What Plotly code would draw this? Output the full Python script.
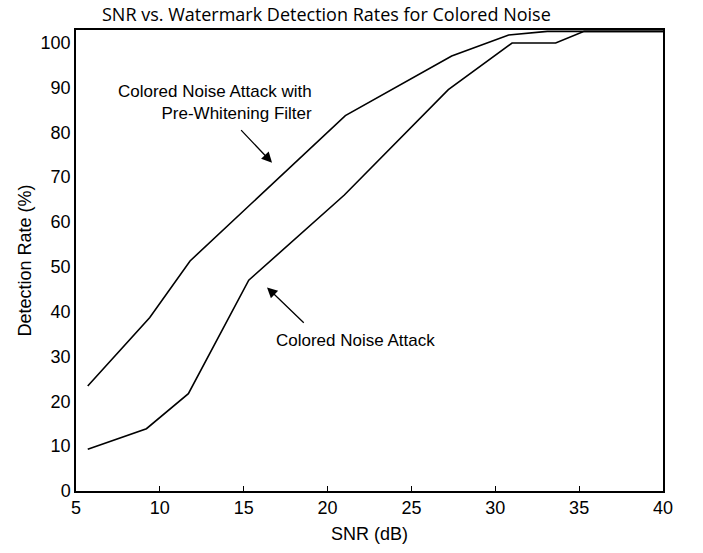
import plotly.graph_objects as go

# Data
snr_prewhite = [5.7, 9.4, 11.8, 21.06, 27.4, 30.8, 33.1, 40.0]
rate_prewhite = [23.4, 38.7, 51.3, 83.7, 97.0, 101.7, 102.5, 102.5]

snr_plain = [5.7, 9.2, 11.7, 15.3, 21.0, 27.2, 31.0, 33.6, 35.3, 40.0]
rate_plain = [9.3, 13.9, 21.7, 47.0, 66.0, 89.5, 99.9, 99.9, 102.5, 102.5]

x_ticks = [5, 10, 15, 20, 25, 30, 35, 40]
y_ticks = [0, 10, 20, 30, 40, 50, 60, 70, 80, 90, 100]

title_text = "SNR vs. Watermark Detection Rates for Colored Noise"
x_title = "SNR (dB)"
y_title = "Detection Rate (%)"
label_prewhite = "Colored Noise Attack with<br>Pre-Whitening Filter"
label_plain = "Colored Noise Attack"

W, H = 703, 553
L, R, T, B = 76, 40, 30, 60
pw, ph = W - L - R, H - T - B

def px_to_paper(px, py):
    return (px - L) / pw, (H - py - B) / ph

fig = go.Figure()
fig.add_trace(go.Scatter(x=snr_prewhite, y=rate_prewhite, mode="lines",
                         line=dict(color="black", width=1.6), showlegend=False))
fig.add_trace(go.Scatter(x=snr_plain, y=rate_plain, mode="lines",
                         line=dict(color="black", width=1.6), showlegend=False))

font_main = "Liberation Sans, Arial, sans-serif"

tx, ty = px_to_paper(326, 14)
annotations = [
    dict(x=19.17, y=86.6, xref="x", yref="y", text=label_prewhite, showarrow=False,
         xanchor="right", yanchor="middle", align="right",
         font=dict(family=font_main, size=17, color="black")),
    dict(x=16.78, y=33.6, xref="x", yref="y", text=label_plain, showarrow=False,
         xanchor="left", yanchor="middle", align="left",
         font=dict(family=font_main, size=17, color="black")),
    dict(x=16.69, y=73.2, ax=14.76, ay=80.8, xref="x", yref="y", axref="x", ayref="y",
         text="", showarrow=True, arrowhead=2, arrowsize=1.6, arrowwidth=1.3,
         arrowcolor="black"),
    dict(x=16.39, y=45.4, ax=18.67, ay=37.2, xref="x", yref="y", axref="x", ayref="y",
         text="", showarrow=True, arrowhead=2, arrowsize=1.6, arrowwidth=1.3,
         arrowcolor="black"),
    dict(x=tx, y=ty, xref="paper", yref="paper", text=title_text, showarrow=False,
         xanchor="center", yanchor="middle",
         font=dict(family="Open Sans, sans-serif", size=18, color="black")),
]

fig.update_layout(
    width=W, height=H,
    margin=dict(l=L, r=R, t=T, b=B),
    paper_bgcolor="white", plot_bgcolor="white",
    font=dict(family=font_main, size=18, color="black"),
    annotations=annotations,
    xaxis=dict(range=[5, 40], tickvals=x_ticks, ticktext=[str(v) for v in x_ticks],
               showgrid=False, zeroline=False, showline=True, linecolor="black",
               linewidth=1.5, mirror=True, ticks="inside", ticklen=5,
               tickcolor="black", tickfont=dict(size=18),
               title=dict(text=x_title, font=dict(size=18), standoff=10)),
    yaxis=dict(range=[0, 102.8], tickvals=y_ticks, ticktext=[str(v) for v in y_ticks],
               showgrid=False, zeroline=False, showline=True, linecolor="black",
               linewidth=1.5, mirror=True, ticks="",
               tickfont=dict(size=18),
               title=dict(text=y_title, font=dict(size=18), standoff=4)),
)

fig.write_html("out.html",
               config={"displayModeBar": False},
               post_script="document.body.style.margin='0';document.body.style.overflow='hidden';")
